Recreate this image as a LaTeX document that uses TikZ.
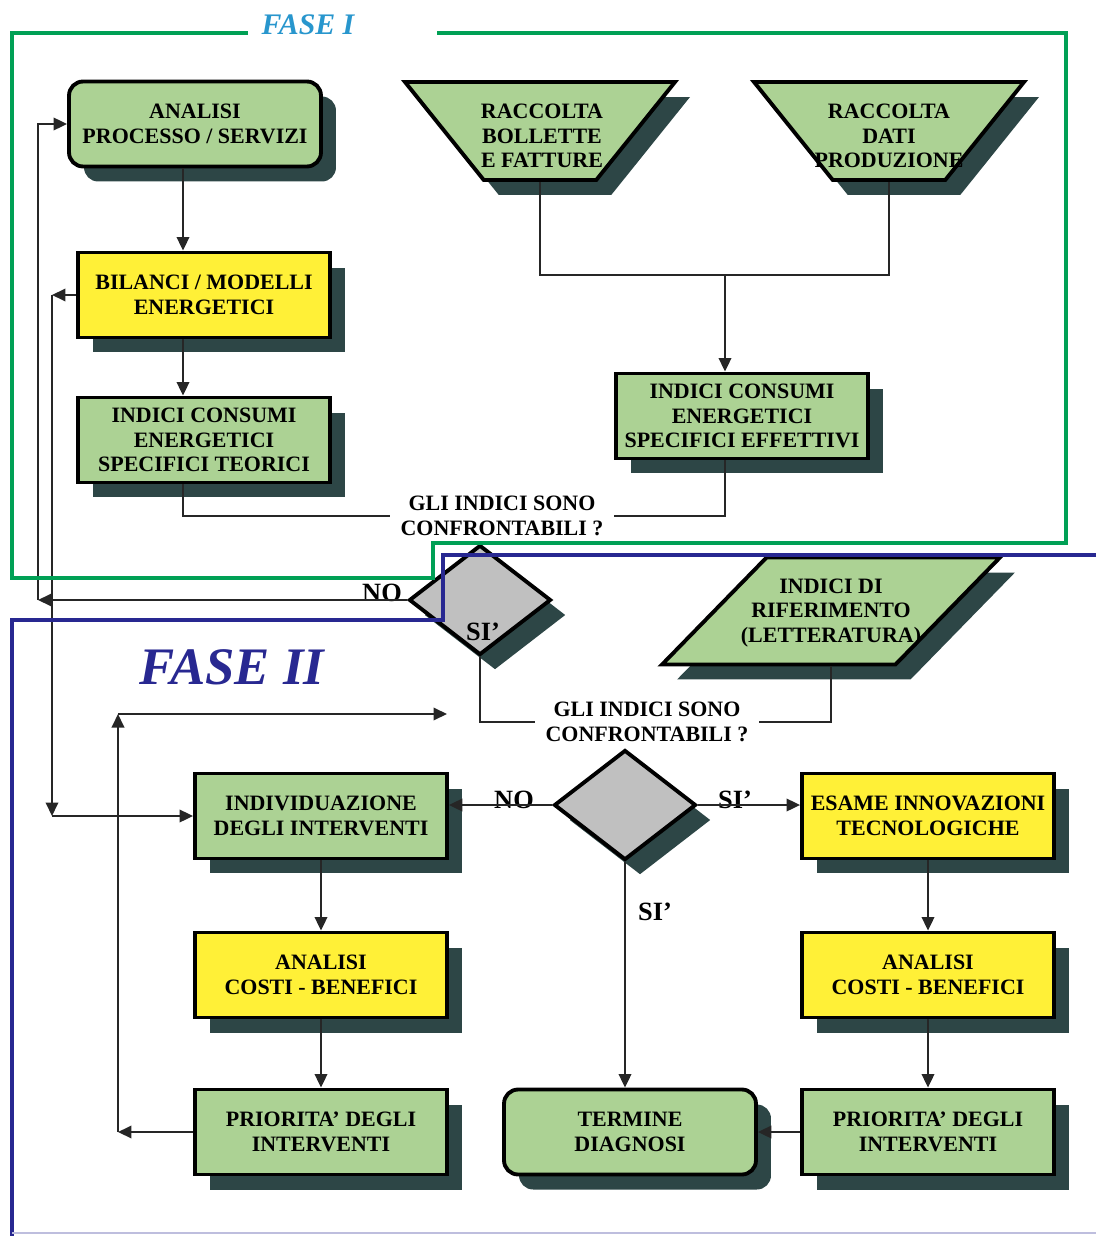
\documentclass[tikz,border=0pt]{standalone}
\usepackage{fontspec}
\setmainfont{Liberation Serif}
\usetikzlibrary{positioning,calc,arrows.meta,shapes.geometric,shadows}
\definecolor{BoxGreen}{RGB}{172,210,148}
\definecolor{BoxYellow}{RGB}{255,240,55}
\definecolor{ShadowGrey}{RGB}{45,70,70}
\definecolor{FrameGreen}{RGB}{0,160,85}
\definecolor{FrameBlue}{RGB}{40,40,145}
\definecolor{FaseCyan}{RGB}{40,150,205}
\definecolor{CondGrey}{RGB}{192,192,192}
\tikzset{
  shad/.style={drop shadow={shadow xshift=0.3cm, shadow yshift=-0.3cm, fill=ShadowGrey, opacity=1}},
  box/.style={rectangle, draw=black, line width=2.2pt, fill=BoxGreen, shad, align=center,
    inner sep=0pt, minimum width=5.04cm, minimum height=1.7cm, font=\fontsize{12.5}{13.9}\selectfont\bfseries},
  ybox/.style={box, fill=BoxYellow},
  rbox/.style={box, rounded corners=8pt},
  trap/.style={trapezium, trapezium left angle=125, trapezium right angle=125, trapezium stretches=true,
    draw=black, line width=2.2pt, fill=BoxGreen, shad, inner sep=1pt, minimum width=5.4cm, minimum height=1.96cm},
  para/.style={trap, trapezium left angle=51, trapezium right angle=129, minimum width=6.76cm, minimum height=2.14cm},
  cond/.style={diamond, draw=black, line width=2.2pt, fill=CondGrey, shad, inner sep=1pt,
    minimum width=2.84cm, minimum height=2.2cm},
  txt/.style={align=center, font=\fontsize{12.5}{13.9}\selectfont\bfseries, inner sep=1pt},
  qtxt/.style={txt, inner sep=3pt, outer sep=3pt},
  ans/.style={font=\fontsize{15}{17}\selectfont\bfseries, inner sep=0pt},
  arr/.style={-{Triangle[length=2.7mm,width=2.5mm]}, line width=1.1pt, draw=black!85},
  ln/.style={line width=1.1pt, draw=black!85},
  frame/.style={line width=2.3pt, line join=miter}
}
\begin{document}
\begin{tikzpicture}[x=0.02cm, y=-0.02cm]
  \useasboundingbox (0,0) rectangle (1096,1236);

  % FASE I
  \node[rbox] (ana) at (195,124) {ANALISI\\PROCESSO / SERVIZI};
  \node[ybox] (bil) at (204,295) {BILANCI / MODELLI\\ENERGETICI};
  \node[box] (teo) at (204,440) {INDICI CONSUMI\\ENERGETICI\\SPECIFICI TEORICI};
  \node[trap] (bol) at (540,131) {};
  \node[txt] (bolt) at ($(bol.center)+(2,5)$) {RACCOLTA\\BOLLETTE\\E FATTURE};
  \node[trap] (dat) at (889,131) {};
  \node[txt] (datt) at ($(dat.center)+(0,5)$) {RACCOLTA\\DATI\\PRODUZIONE};
  \node[box] (eff) at (742,416) {INDICI CONSUMI\\ENERGETICI\\SPECIFICI EFFETTIVI};
  \node[qtxt] (q1) at (502,516) {GLI INDICI SONO\\CONFRONTABILI ?};
  \node[cond] (d1) at (480,600) {};
  \node[ans] (no1) at (382,593) {NO};
  \node[ans] (si1) at (483,632) {SI’};

  % FASE II
  \node[para] (rif) at (831,611) {};
  \node[txt] (rift) at ($(rif.center)+(0,2)$) {INDICI DI\\RIFERIMENTO\\(LETTERATURA)};
  \node[qtxt] (q2) at (647,722) {GLI INDICI SONO\\CONFRONTABILI ?};
  \node[cond] (d2) at (625,805) {};
  \node[box] (ind) at (321,816) {INDIVIDUAZIONE\\DEGLI INTERVENTI};
  \node[ybox] (acb1) at (321,975) {ANALISI\\COSTI - BENEFICI};
  \node[box] (pri1) at (321,1132) {PRIORITA’ DEGLI\\INTERVENTI};
  \node[ybox] (esa) at (928,816) {ESAME INNOVAZIONI\\TECNOLOGICHE};
  \node[ybox] (acb2) at (928,975) {ANALISI\\COSTI - BENEFICI};
  \node[box] (pri2) at (928,1132) {PRIORITA’ DEGLI\\INTERVENTI};
  \node[rbox] (ter) at (630,1132) {TERMINE\\DIAGNOSI};
  \node[ans] (no2) at (514,800) {NO};
  \node[ans] (si2) at (735,800) {SI’};
  \node[ans] (si3) at (655,912) {SI’};

  % connectors, fase I
  \coordinate (lx) at (183,0);
  \coordinate (j1) at (725,275);
  \draw[arr] (ana.south -| lx) -- (bil.north -| lx);
  \draw[arr] (bil.south -| lx) -- (teo.north -| lx);
  \draw[ln] (teo.south -| lx) |- (q1.west);
  \draw[ln] (bol.south) |- (j1) -| (dat.south);
  \draw[arr] (j1) -- (eff.north -| j1);
  \draw[ln] (eff.south -| j1) |- (q1.east);

  % back loops on the left
  \coordinate (nx) at (38,0);
  \coordinate (bx) at (52,0);
  \draw[arr] (d1.west) -- (d1.west -| nx);
  \draw[arr] (d1.west -| nx) |- (ana.west);
  \draw[arr] (bil.west) -- (bil.west -| bx);
  \draw[arr] (bil.west -| bx) -- (ind.west -| bx);
  \draw[arr] (ind.west -| bx) -- (ind.west);

  % connectors, fase II
  \draw[ln] (d1.south) |- (q2.west);
  \draw[ln] (rif.south) |- (q2.east);
  \draw[arr] (d2.west) -- (d2.west -| ind.east);
  \draw[arr] (d2.east) -- (d2.east -| esa.west);
  \draw[arr] (d2.south) -- (d2.south |- ter.north);
  \draw[arr] (ind.south) -- (acb1.north);
  \draw[arr] (acb1.south) -- (pri1.north);
  \draw[arr] (esa.south) -- (acb2.north);
  \draw[arr] (acb2.south) -- (pri2.north);
  \draw[arr] (pri2.west) -- (ter.east);
  \coordinate (fx) at (118,714);
  \coordinate (q2in) at (447,714);
  \draw[arr] (pri1.west) -- (pri1.west -| fx);
  \draw[arr] (pri1.west -| fx) -- (fx);
  \draw[arr] (fx) -- (q2in);

  % frames
  \draw[frame, FrameGreen] (248,33) -- (12,33) -- (12,578) -- (433,578) -- (433,543)
    -- (1066,543) -- (1066,33) -- (437,33);
  \node[font=\fontsize{17}{20}\selectfont\bfseries\itshape, text=FaseCyan] (f1) at (308,25) {FASE I};
  \draw[frame, FrameBlue] (1096,555) -- (443,555) -- (443,620) -- (12,620) -- (12,1236);
  \draw[line width=1pt, FrameBlue!30] (12,1233) -- (1096,1233);
  \node[font=\fontsize{30}{34}\selectfont\bfseries\itshape, text=FrameBlue] (f2) at (232,667) {FASE II};
\end{tikzpicture}
\end{document}
